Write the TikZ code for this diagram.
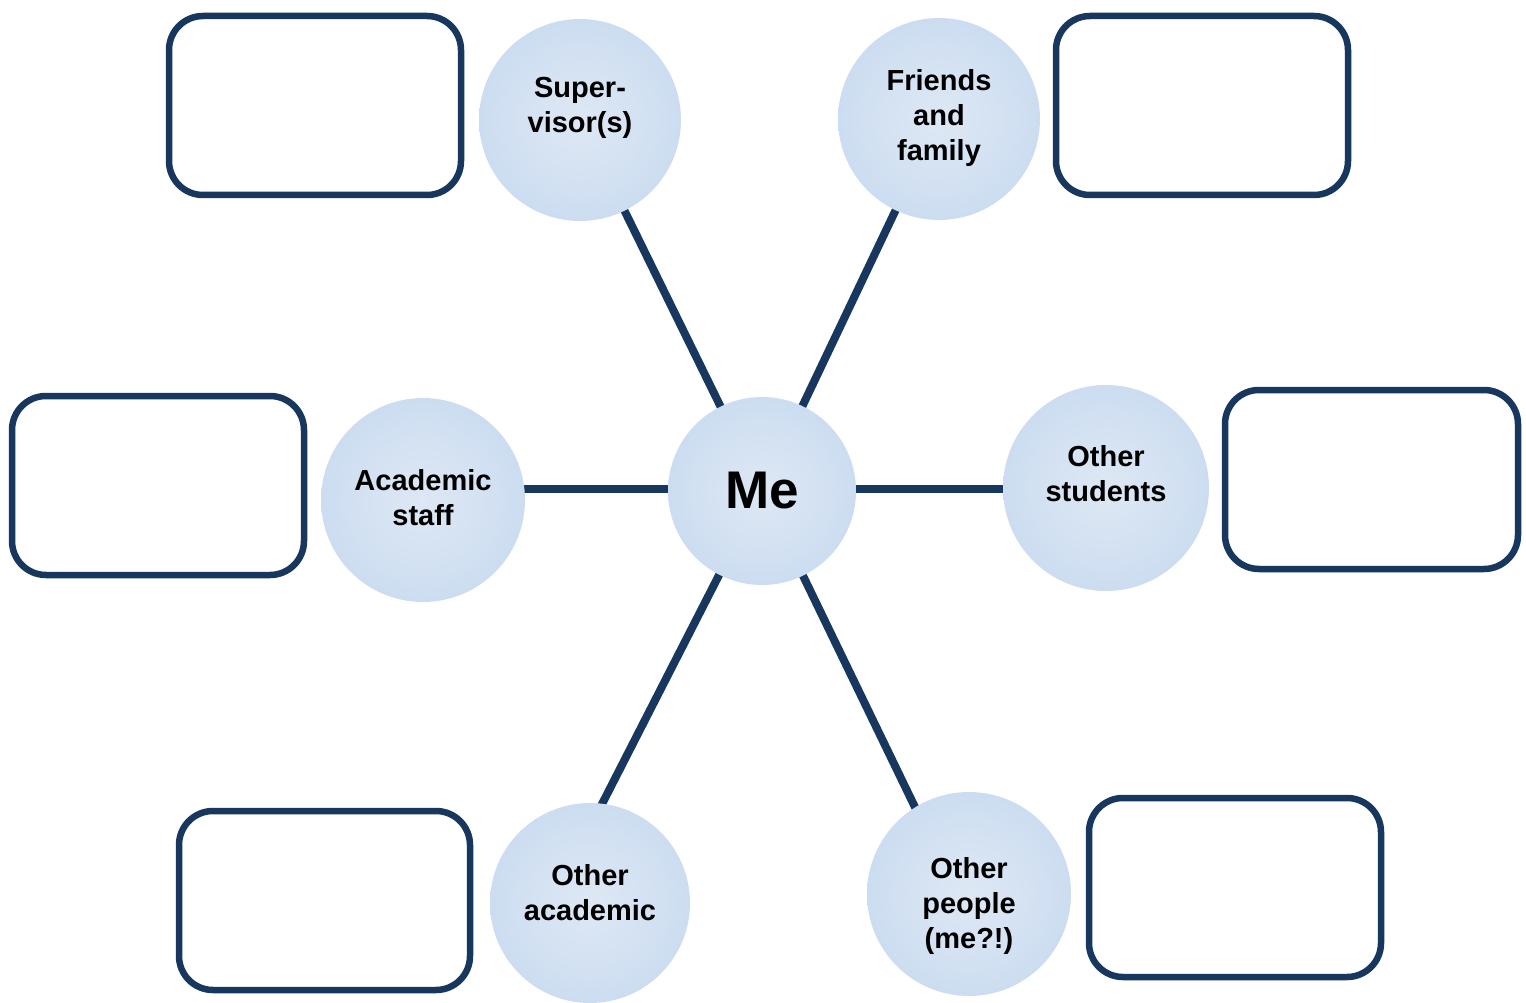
\documentclass[tikz,border=0pt]{standalone}
\usepackage{fontspec}
\setmainfont{Liberation Sans}
\definecolor{navy}{RGB}{23,55,94}
\definecolor{bubin}{RGB}{222,232,244}
\definecolor{bubout}{RGB}{198,217,240}
\pgfdeclareradialshading{bub}{\pgfpoint{0bp}{0bp}}{color(0bp)=(bubin); color(34bp)=(bubout); color(50bp)=(bubout)}
\tikzset{
  bubble/.style={circle, shading=bub, draw=none, inner sep=0pt, minimum size=#1},
  bubble/.default=202pt,
  lbl/.style={align=center, font=\bfseries\fontsize{29}{35}\selectfont, inner sep=0pt},
  box/.style={draw=navy, line width=6.5pt, rounded corners=34pt, fill=white},
  conn/.style={draw=navy, line width=8pt}
}
\begin{document}
\begin{tikzpicture}[x=1pt,y=-1pt]
\useasboundingbox (0,0) rectangle (1526,1003);
% boxes
\draw[box] (169,16) rectangle (461,195);
\draw[box] (1056,16) rectangle (1348,195);
\draw[box] (12,396) rectangle (304,575);
\draw[box] (1225,390) rectangle (1518,569);
\draw[box] (179,811) rectangle (470,990);
\draw[box] (1089,798) rectangle (1381,977);
% bubble positions
\coordinate (c-me) at (762,491);
\coordinate (c-sup) at (580,120);
\coordinate (c-fri) at (939,119);
\coordinate (c-aca) at (423,500);
\coordinate (c-stu) at (1106,488);
\coordinate (c-oac) at (590,903);
\coordinate (c-oth) at (969,894);
\coordinate (e-oac) at (601,806);
\coordinate (e-oth) at (957,894);
% connectors (behind bubbles)
\draw[conn] (c-me) -- (c-sup);
\draw[conn] (c-me) -- (c-fri);
\draw[conn] (c-me |- 0,489) -- (c-aca |- 0,489);
\draw[conn] (c-me |- 0,489) -- (c-stu |- 0,489);
\draw[conn] (c-me) -- (e-oac);
\draw[conn] (c-me) -- (e-oth);
% bubbles
\node[bubble=202pt] (sup) at (c-sup) {};
\node[bubble=202pt] (fri) at (c-fri) {};
\node[bubble=188pt] (me) at (c-me) {};
\node[bubble=204pt] (aca) at (c-aca) {};
\node[bubble=206pt] (stu) at (c-stu) {};
\node[bubble=200pt] (oac) at (c-oac) {};
\node[bubble=204pt] (oth) at (c-oth) {};
% labels
\node[lbl] (t-sup) at (580,108) {Super-\\visor(s)};
\node[lbl] (t-fri) at (939,118) {Friends\\and\\family};
\node[lbl, font=\bfseries\fontsize{53}{60}\selectfont] (t-me) at (762,491) {Me};
\node[lbl] (t-aca) at (423,498) {Academic\\staff};
\node[lbl] (t-stu) at (1106,474) {Other\\students};
\node[lbl] (t-oac) at (590,893) {Other\\academic};
\node[lbl] (t-oth) at (969,906) {Other\\people\\(me?!)};
\end{tikzpicture}
\end{document}
